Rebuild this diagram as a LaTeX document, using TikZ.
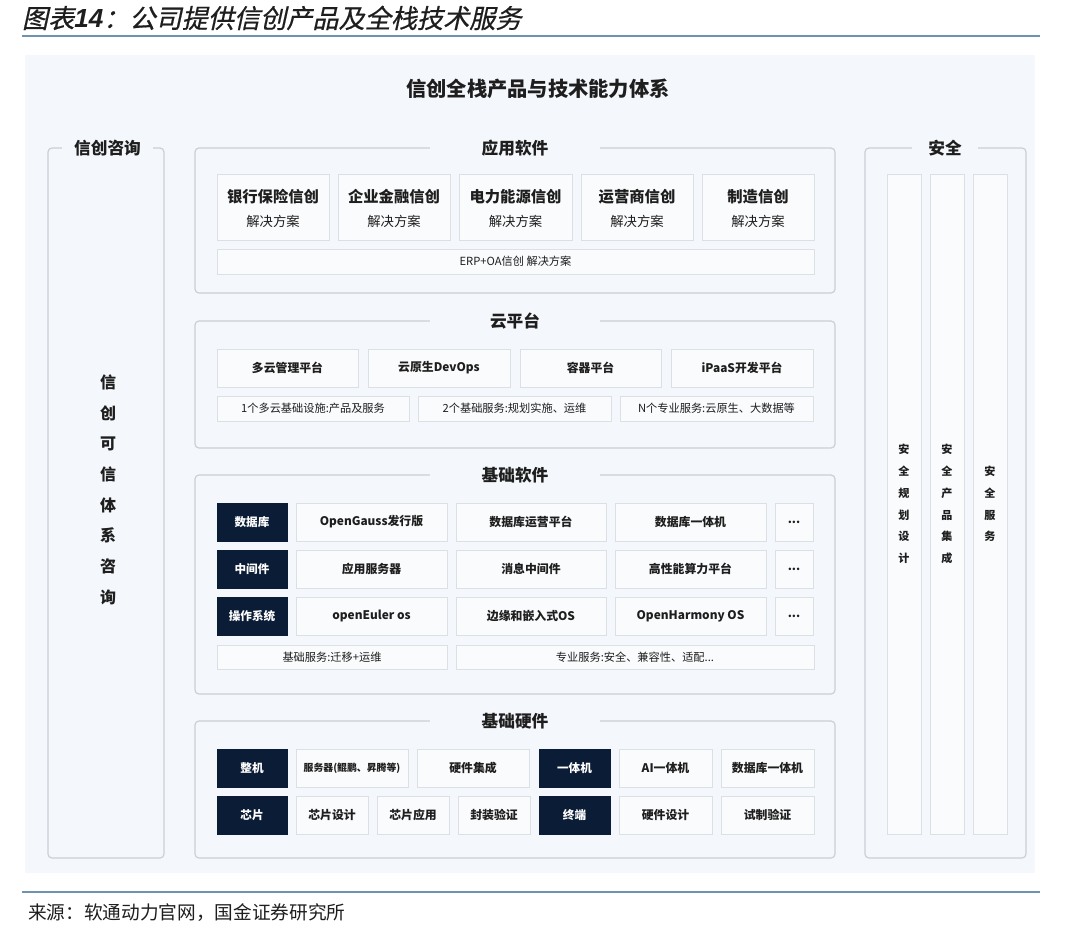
\documentclass[tikz,border=0pt]{standalone}
\usepackage{fontspec}
\setmainfont{Noto Sans CJK SC}
\newfontfamily\titlefont[FakeSlant=0.22,FakeBold=0.6]{Noto Sans CJK SC}
\newfontfamily\numfont{Liberation Sans}
\definecolor{bgc}{HTML}{F4F7FB}
\definecolor{secline}{HTML}{CBD0D7}
\definecolor{boxline}{HTML}{DCE0E5}
\definecolor{boxfill}{HTML}{FAFBFD}
\definecolor{navy}{HTML}{0B1C36}
\definecolor{rulec}{HTML}{6E93AE}
\definecolor{txt}{HTML}{1E1E1E}
\newcommand\bx[7]{\node[#6, minimum width={0.75pt*(#4-#2)}, minimum height={0.75pt*(#5-#3)}] (#1) at ({(#2+#4)/2},{(#3+#5)/2}) {#7};}
\begin{document}
\begin{tikzpicture}[x=0.75pt,y=-0.75pt,
  every node/.style={inner sep=0pt, outer sep=0pt, text=txt},
  sec/.style={draw=secline, line width=0.9pt, rounded corners=3pt},
  sectitle/.style={fill=bgc, minimum width=#1, minimum height=14pt, font=\fontsize{12.5}{14}\selectfont\bfseries},
  sectitle/.default=128pt,
  wbox/.style={draw=boxline, line width=0.7pt, fill=boxfill, align=center},
  dbox/.style={fill=navy, draw=navy, text=white, font=\fontsize{8.7}{10}\selectfont\bfseries},
  fbig/.style={font=\fontsize{11.5}{13}\selectfont\bfseries},
  fsub/.style={font=\fontsize{10}{12}\selectfont},
  fitem/.style={font=\fontsize{8.9}{10}\selectfont\bfseries},
  fsmall/.style={font=\fontsize{8.4}{10}\selectfont},
]
\useasboundingbox (0,0) rectangle (1080,933);
\fill[white] (0,0) rectangle (1080,933);
% header
\node[anchor=west, font=\titlefont\fontsize{19.6}{22}\selectfont] (hdr) at (22,18) {图表{\numfont\bfseries\itshape 14}：公司提供信创产品及全栈技术服务};
\draw[rulec, line width=1.3pt] (22,36) coordinate (hr1) -- (1040,36) coordinate (hr2);
% panel
\fill[bgc] (25,55) rectangle (1035,873);
\node[font=\fontsize{15.2}{17}\selectfont\bfseries] (maintitle) at (538,89) {信创全栈产品与技术能力体系};

% left column
\draw[sec] (48,148) rectangle (164,858);
\node[sectitle=68pt] (lt) at (107.5,148) {信创咨询};
\node[align=center, font=\fontsize{12}{23}\selectfont\bfseries] (lv) at (108,489.5) {信\\创\\可\\信\\体\\系\\咨\\询};

% application software
\draw[sec] (195,148) rectangle (835,293);
\node[sectitle] (appt) at (515,148) {应用软件};
\bx{a1}{217}{174}{329}{240}{wbox}{}
\bx{a2}{338}{174}{450}{240}{wbox}{}
\bx{a3}{459}{174}{572}{240}{wbox}{}
\bx{a4}{581}{174}{693}{240}{wbox}{}
\bx{a5}{702}{174}{814}{240}{wbox}{}
\node[fbig] (a1t) at (273,197) {银行保险信创};
\node[fsub] (a1s) at (273,221) {解决方案};
\node[fbig] (a2t) at (394,197) {企业金融信创};
\node[fsub] (a2s) at (394,221) {解决方案};
\node[fbig] (a3t) at (515.5,197) {电力能源信创};
\node[fsub] (a3s) at (515.5,221) {解决方案};
\node[fbig] (a4t) at (637,197) {运营商信创};
\node[fsub] (a4s) at (637,221) {解决方案};
\node[fbig] (a5t) at (758,197) {制造信创};
\node[fsub] (a5s) at (758,221) {解决方案};
\bx{erp}{217}{249}{814}{274}{wbox,fsmall}{ERP+OA信创 解决方案}

% cloud platform
\draw[sec] (195,321) rectangle (835,448);
\node[sectitle] (cloudt) at (515,321) {云平台};
\bx{c1}{217}{349}{358}{387}{wbox,fitem}{多云管理平台}
\bx{c2}{368}{349}{510}{387}{wbox,fitem}{云原生DevOps}
\bx{c3}{520}{349}{661}{387}{wbox,fitem}{容器平台}
\bx{c4}{671}{349}{813}{387}{wbox,fitem}{iPaaS开发平台}
\bx{c5}{217}{396}{409}{421}{wbox,fsmall}{1个多云基础设施:产品及服务}
\bx{c6}{418}{396}{611}{421}{wbox,fsmall}{2个基础服务:规划实施、运维}
\bx{c7}{620}{396}{813}{421}{wbox,fsmall}{N个专业服务:云原生、大数据等}

% basic software
\draw[sec] (195,475) rectangle (835,694);
\node[sectitle] (swt) at (515,475) {基础软件};
\bx{s1}{217}{503}{287}{541}{dbox}{数据库}
\bx{s2}{296}{503}{447}{541}{wbox,fitem}{OpenGauss发行版}
\bx{s3}{456}{503}{606}{541}{wbox,fitem}{数据库运营平台}
\bx{s4}{615}{503}{766}{541}{wbox,fitem}{数据库一体机}
\bx{s5}{775}{503}{813}{541}{wbox,fitem}{...}
\bx{m1}{217}{550}{287}{588}{dbox}{中间件}
\bx{m2}{296}{550}{447}{588}{wbox,fitem}{应用服务器}
\bx{m3}{456}{550}{606}{588}{wbox,fitem}{消息中间件}
\bx{m4}{615}{550}{766}{588}{wbox,fitem}{高性能算力平台}
\bx{m5}{775}{550}{813}{588}{wbox,fitem}{...}
\bx{o1}{217}{597}{287}{635}{dbox}{操作系统}
\bx{o2}{296}{597}{447}{635}{wbox,fitem}{openEuler os}
\bx{o3}{456}{597}{606}{635}{wbox,fitem}{边缘和嵌入式OS}
\bx{o4}{615}{597}{766}{635}{wbox,fitem}{OpenHarmony OS}
\bx{o5}{775}{597}{813}{635}{wbox,fitem}{...}
\bx{b1}{217}{645}{447}{669}{wbox,fsmall}{基础服务:迁移+运维}
\bx{b2}{456}{645}{814}{669}{wbox,fsmall}{专业服务:安全、兼容性、适配...}

% basic hardware
\draw[sec] (195,721) rectangle (835,858);
\node[sectitle] (hwt) at (515,721) {基础硬件};
\bx{h1}{217}{749}{287}{787}{dbox}{整机}
\bx{h2}{296}{749}{408}{787}{wbox,font=\fontsize{7.4}{9}\selectfont\bfseries}{服务器(鲲鹏、昇腾等)}
\bx{h3}{417}{749}{529}{787}{wbox,fitem}{硬件集成}
\bx{h4}{539}{749}{610}{787}{dbox}{一体机}
\bx{h5}{619}{749}{712}{787}{wbox,fitem}{AI一体机}
\bx{h6}{721}{749}{814}{787}{wbox,fitem}{数据库一体机}
\bx{g1}{217}{796}{287}{834}{dbox}{芯片}
\bx{g2}{296}{796}{368}{834}{wbox,fitem}{芯片设计}
\bx{g3}{377}{796}{449}{834}{wbox,fitem}{芯片应用}
\bx{g4}{458}{796}{530}{834}{wbox,fitem}{封装验证}
\bx{g5}{539}{796}{610}{834}{dbox}{终端}
\bx{g6}{619}{796}{712}{834}{wbox,fitem}{硬件设计}
\bx{g7}{721}{796}{814}{834}{wbox,fitem}{试制验证}

% security
\draw[sec] (865,148) rectangle (1026,858);
\node[sectitle=49pt] (sect) at (945,148) {安全};
\bx{v1}{887}{174}{921}{834}{wbox}{}
\bx{v2}{930}{174}{964}{834}{wbox}{}
\bx{v3}{973}{174}{1007}{834}{wbox}{}
\node[align=center, font=\fontsize{8.3}{16.3}\selectfont\bfseries] (v1t) at (904,504) {安\\全\\规\\划\\设\\计};
\node[align=center, font=\fontsize{8.3}{16.3}\selectfont\bfseries] (v2t) at (947,504) {安\\全\\产\\品\\集\\成};
\node[align=center, font=\fontsize{8.3}{16.3}\selectfont\bfseries] (v3t) at (990,504) {安\\全\\服\\务};

% footer
\draw[rulec, line width=1.1pt] (22,892) coordinate (fr1) -- (1040,892) coordinate (fr2);
\node[anchor=west, font=\fontsize{14}{16}\selectfont] (src) at (28,913) {来源：软通动力官网，国金证券研究所};
\end{tikzpicture}
\end{document}
